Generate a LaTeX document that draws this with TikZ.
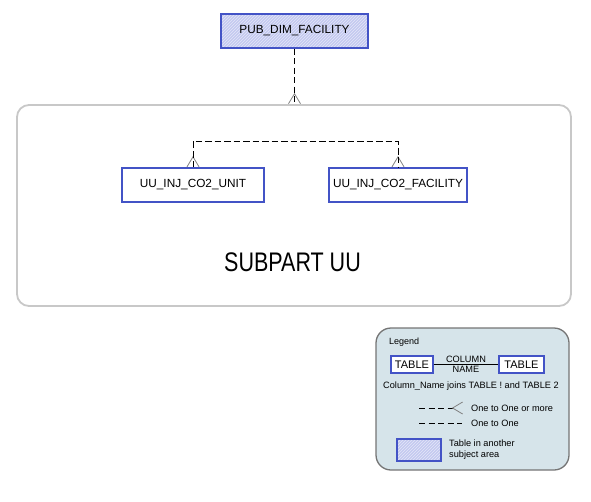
\documentclass[tikz,border=0pt]{standalone}
\usepackage{fontspec}
\usepackage{graphicx}
\setmainfont{Liberation Sans}
\usetikzlibrary{arrows.meta, positioning, patterns}

\definecolor{tblblue}{HTML}{4353C6}
\definecolor{extfill}{HTML}{C4C9F0}
\definecolor{areagray}{HTML}{C8C8C8}
\definecolor{legfill}{HTML}{D6E4EA}
\definecolor{leggray}{HTML}{757575}

\tikzset{
  crow/.tip={Straight Barb[reversed, length=10pt, width=12pt, gray, line width=0.8pt]},
}

\begin{document}
\begin{tikzpicture}[x=1pt, y=-1pt, on grid,
    tbl/.style={draw=tblblue, line width=1.6pt, fill=white, inner sep=0pt,
                minimum height=34pt, font=\fontsize{11.8}{13}\selectfont},
    ext/.style={tbl, preaction={fill=extfill}, pattern=north east lines,
                pattern color=white!55!extfill},
    rel/.style={dash pattern=on 6pt off 3.5pt, line width=0.9pt},
    crowrel/.style={rel, postaction={draw, -}},
    area/.style={draw=areagray, line width=1.8pt, rounded corners=12pt},
    small/.style={font=\fontsize{9.2}{11}\selectfont, inner sep=0pt}]
  \useasboundingbox (0,0) rectangle (591,501);

  % subject area
  \node[area, minimum width=554pt, minimum height=201pt] (subuu) at (294,205.5) {};
  \node[font=\fontsize{21.5}{26}\selectfont] (subuu_lbl) at (292.5,262)
    {\scalebox{1}[1.25]{SUBPART UU}};

  % tables
  \node[ext, minimum width=147pt]  (pub_dim)  at (294.5,31) {PUB\_DIM\_FACILITY};
  \node[tbl, minimum width=142pt]  (uu_unit)  at (193,185)  {UU\_INJ\_CO2\_UNIT};
  \node[tbl, minimum width=138pt]  (uu_fac)   [right=205pt of uu_unit] {UU\_INJ\_CO2\_FACILITY};

  % relationships
  \draw[crowrel, -{crow}] (pub_dim.south) -- (pub_dim |- subuu.north);
  \draw[crowrel, {crow}-{crow}] (uu_unit.north) -- ++(0,-26) -| (uu_fac.north);

  % legend
  \node[draw=leggray, fill=legfill, line width=1.3pt, rounded corners=15pt,
        minimum width=193pt, minimum height=142pt] (legend) at (472.5,399) {};
  \node[small, font=\fontsize{9}{10}\selectfont, anchor=west] (leg_title) at (389,342) {Legend};
  \node[tbl, minimum width=42pt, minimum height=17pt, line width=1.4pt,
        font=\fontsize{11}{12}\selectfont] (leg_a) at (412,364.5) {TABLE};
  \node[tbl, minimum width=45pt, minimum height=17pt, line width=1.4pt,
        font=\fontsize{11}{12}\selectfont] (leg_b) [right=109.5pt of leg_a] {TABLE};
  \draw[line width=0.8pt] (leg_a) -- node[small, above=1.5pt] {COLUMN}
        node[small, below=1.5pt] {NAME} (leg_b);
  \node[small] (leg_join) at (471,386) {Column\_Name joins TABLE ! and TABLE 2};

  \coordinate (many_a) at (419,408);
  \coordinate (many_b) at (463,408);
  \coordinate (one_a)  at (419,423);
  \coordinate (one_b)  at (462,423);
  \draw[rel, -{crow}] (many_a) -- (many_b);
  \draw[rel] (one_a) -- (one_b);
  \node[small, anchor=west] (many_lbl) at (471,408) {One to One or more};
  \node[small, anchor=west] (one_lbl)  at (471,423) {One to One};

  \node[ext, minimum width=44pt, minimum height=22pt, line width=1.4pt] (leg_ext) at (419,450) {};
  \node[small, anchor=west, align=left] (ext_lbl) at (449,450) {Table in another\\subject area};
\end{tikzpicture}
\end{document}
